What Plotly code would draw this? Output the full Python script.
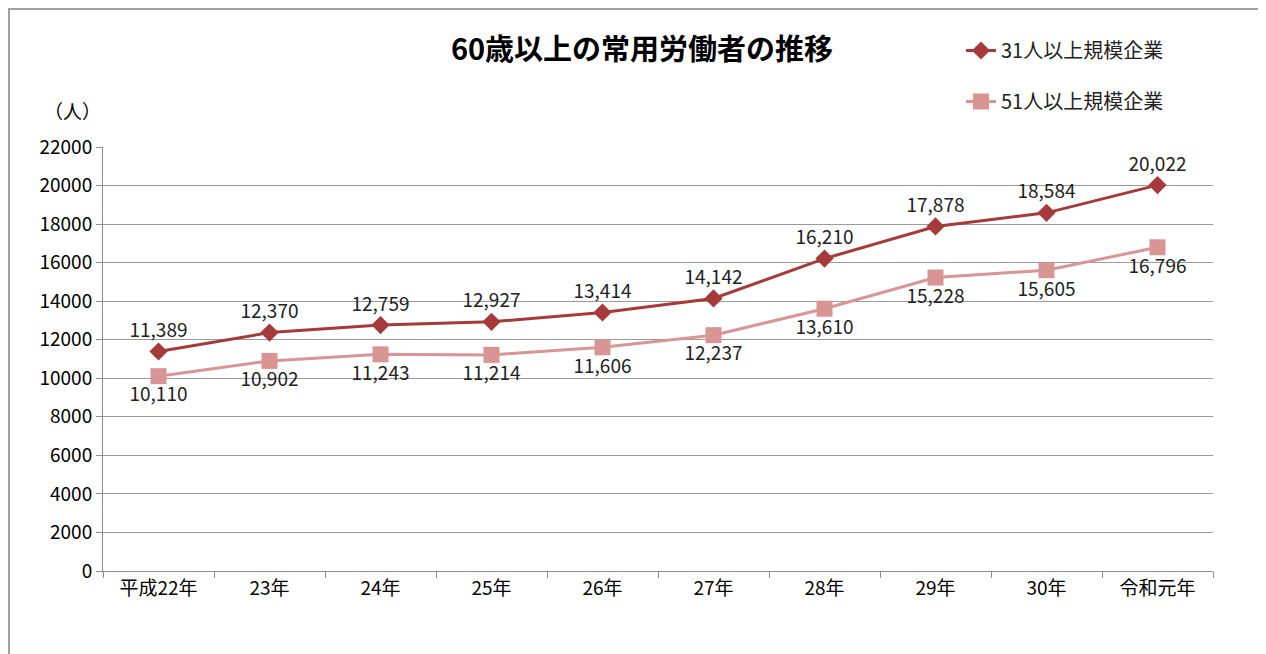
import plotly.graph_objects as go

categories = ["平成22年", "23年", "24年", "25年", "26年", "27年", "28年", "29年", "30年", "令和元年"]
series_31 = [11389, 12370, 12759, 12927, 13414, 14142, 16210, 17878, 18584, 20022]
series_51 = [10110, 10902, 11243, 11214, 11606, 12237, 13610, 15228, 15605, 16796]
name_31 = "31人以上規模企業"
name_51 = "51人以上規模企業"
y_ticks = list(range(0, 22001, 2000))

FONT = "Noto Sans CJK JP"
OFF = 8  # page body margin
W, H = 1258, 646
L, R, T, B = 95, 53, 139, 83
pw, ph = W - L - R, H - T - B

def px(x):  # page pixel -> paper
    return (x - OFF - L) / pw

def py(y):
    return (H - B - (y - OFF)) / ph

fig = go.Figure()
fig.add_trace(go.Scatter(
    x=categories, y=series_31, name=name_31, legendgroup="a",
    mode="lines+markers+text",
    line=dict(color="#A63A3B", width=3),
    marker=dict(symbol="diamond", size=14, color="#A63A3B"),
    text=[f"{v:,}" for v in series_31], textposition="top center",
    textfont=dict(size=19, color="#222222", family=FONT),
))
fig.add_trace(go.Scatter(
    x=categories, y=series_51, name=name_51, legendgroup="b",
    mode="lines+markers+text",
    line=dict(color="#D99594", width=3),
    marker=dict(symbol="square", size=16, color="#D99594"),
    text=[f"{v:,}" for v in series_51], textposition="bottom center",
    textfont=dict(size=19, color="#222222", family=FONT),
))

fig.update_layout(
    width=W, height=H,
    margin=dict(l=L, r=R, t=T, b=B),
    paper_bgcolor="white", plot_bgcolor="white",
    font=dict(family=FONT, size=18, color="#000000"),
    title=dict(text="<b>60歳以上の常用労働者の推移</b>", x=px(642), xref="paper", xanchor="center",
               y=1 - (50 - OFF) / H, yanchor="middle", font=dict(size=29, color="#000000", family=FONT)),
    legend=dict(x=px(961), y=py(31), xanchor="left", yanchor="top", xref="paper", yref="paper",
                font=dict(size=20, color="#222222", family=FONT), tracegroupgap=22,
                bgcolor="rgba(0,0,0,0)"),
    xaxis=dict(type="category", range=[-0.5, 9.5], showgrid=False,
               showline=True, linecolor="#8c8c8c", linewidth=1,
               ticks="outside", tickson="boundaries", ticklen=6, tickcolor="#8c8c8c",
               tickfont=dict(size=19, color="#000000")),
    yaxis=dict(range=[0, 22000], tickvals=y_ticks, ticktext=[str(v) for v in y_ticks],
               showgrid=True, gridcolor="#9a9a9a", gridwidth=1,
               showline=True, linecolor="#8c8c8c", linewidth=1,
               ticks="outside", ticklen=6, tickcolor="#8c8c8c",
               tickfont=dict(size=19, color="#000000"), zeroline=False),
    annotations=[dict(text="（人）", x=px(72), y=py(111), xref="paper", yref="paper",
                      xanchor="center", yanchor="middle",
                      showarrow=False, font=dict(size=19, color="#000000"))],
    shapes=[
        dict(type="line", xref="paper", yref="paper", x0=px(8), x1=px(1270), y0=py(9), y1=py(9),
             line=dict(color="#a0a0a0", width=2)),
        dict(type="line", xref="paper", yref="paper", x0=px(9), x1=px(9), y0=py(9), y1=py(660),
             line=dict(color="#a0a0a0", width=2)),
    ],
)

fig.write_html("out.html")
